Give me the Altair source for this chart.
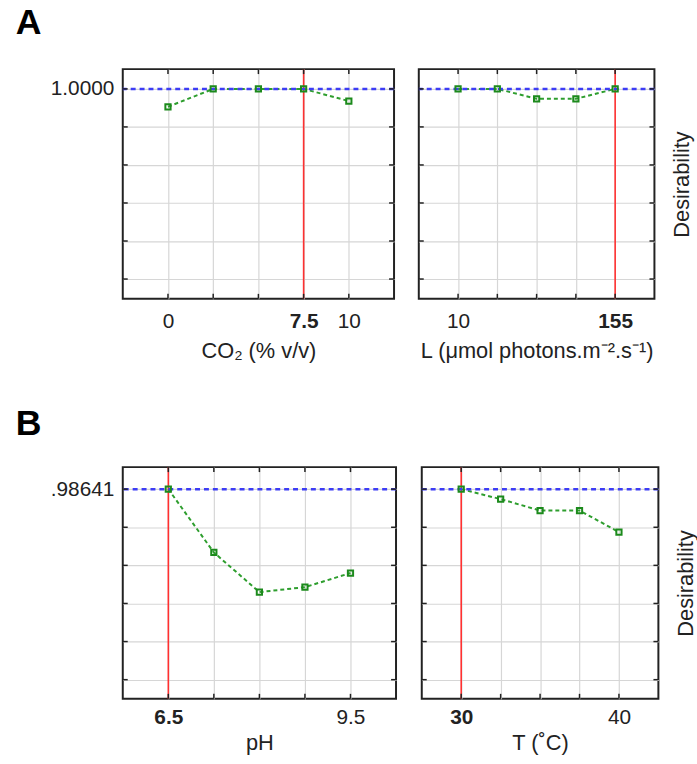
import altair as alt
import pandas as pd

# ---------------- data ----------------
co2_x = [0, 2.5, 5, 7.5, 10]
co2_d = [0.906, 1.0, 1.0, 1.0, 0.936]
light_x = [10, 46.25, 82.5, 118.75, 155]
light_d = [1.0, 1.0, 0.948, 0.948, 1.0]
ph_x = [6.5, 7.25, 8.0, 8.75, 9.5]
ph_d = [0.98641, 0.654, 0.446, 0.472, 0.546]
t_x = [30, 32.5, 35, 37.5, 40]
t_d = [0.98641, 0.934, 0.874, 0.874, 0.761]

co2_labels = {0: "0", 7.5: "7.5", 10: "10"}
light_labels = {10: "10", 155: "155"}
ph_labels = {6.5: "6.5", 9.5: "9.5"}
t_labels = {30: "30", 40: "40"}

opt_a = [7.5, 155]
opt_b = [6.5, 30]
max_a = 1.0
max_b = 0.98641

ygrid_a = [0.0, 0.2, 0.4, 0.6, 0.8, 1.0]
ygrid_b = [round(max_b - 0.2 * k, 5) for k in range(6)]

FONT = "Liberation Sans"
GRID = "#d6d6d6"


def label_expr(labels):
    parts = [f"abs(datum.value - {v}) < 1e-6 ? '{t}'" for v, t in labels.items()]
    return " : ".join(parts) + " : ''"


def panel(xs, ds, xdomain, xlabels, xbold, xtitle, ygrid, ydomain, ymax, ylab,
          opt, width, height, side, letter=None, letter_offset=2, lab_pad=10, tit_pad=8):
    df = pd.DataFrame({"x": xs, "d": ds})
    xaxis = alt.Axis(values=xs, grid=True, gridColor=GRID, gridWidth=1.2,
                     ticks=False, domain=False, labelExpr=label_expr(xlabels),
                     labelFontWeight={"condition": {"test": f"datum.value == {xbold}", "value": "bold"},
                                      "value": "normal"},
                     labelFontSize=21, labelPadding=lab_pad, labelColor="#222",
                     labelOverlap=False, labelFlush=False, title=xtitle,
                     titleFontSize=22, titleFontWeight="normal", titleColor="#222",
                     titlePadding=tit_pad, labelFont=FONT, titleFont=FONT)
    if side == "left":
        yaxis = alt.Axis(values=ygrid, grid=True, gridColor=GRID, gridWidth=1.2,
                         ticks=False, domain=False,
                         labelExpr=f"abs(datum.value - {ymax}) < 1e-6 ? '{ylab}' : ''",
                         labelFontSize=21, labelPadding=9, labelColor="#222",
                         labelOverlap=False, labelFlush=False, title=None, labelFont=FONT)
    else:
        yaxis = alt.Axis(orient="right", values=ygrid, grid=True, gridColor=GRID, gridWidth=1.2,
                         ticks=False, domain=False, labels=False, title="Desirability",
                         titleAngle=270, titleBaseline="top", titlePadding=17,
                         titleFontSize=22, titleFontWeight="normal", titleColor="#222",
                         titleFont=FONT)
    xs_ = alt.Scale(domain=xdomain, nice=False, zero=False)
    ys_ = alt.Scale(domain=ydomain, nice=False, zero=False)

    base = alt.Chart(df)
    red = alt.Chart(pd.DataFrame({"x": [opt]})).mark_rule(
        color="#ff3030", strokeWidth=1.6).encode(x=alt.X("x:Q", scale=xs_, axis=xaxis))
    line = base.mark_line(color="#2e9e2e", strokeWidth=2, strokeDash=[4, 3]).encode(
        x=alt.X("x:Q", scale=xs_), y=alt.Y("d:Q", scale=ys_, axis=yaxis))
    blue = alt.Chart(pd.DataFrame({"d": [ymax]})).mark_rule(
        color="#3c3cf5", strokeWidth=2.5, strokeDash=[5, 4]).encode(y=alt.Y("d:Q", scale=ys_))
    pts = base.mark_point(shape="square", size=28, filled=False, strokeWidth=2,
                          color="#1c8a1c", opacity=1).encode(
        x=alt.X("x:Q", scale=xs_), y=alt.Y("d:Q", scale=ys_))
    xg = alt.Chart(pd.DataFrame({"x": xs}))
    yg = alt.Chart(pd.DataFrame({"d": ygrid}))
    tk = dict(color="#222", strokeWidth=1.5)
    t_top = xg.mark_rule(**tk).encode(x=alt.X("x:Q", scale=xs_), y=alt.value(0), y2=alt.value(5))
    t_bot = xg.mark_rule(**tk).encode(x=alt.X("x:Q", scale=xs_), y=alt.value(height - 5), y2=alt.value(height))
    t_l = yg.mark_rule(**tk).encode(y=alt.Y("d:Q", scale=ys_), x=alt.value(0), x2=alt.value(5))
    t_r = yg.mark_rule(**tk).encode(y=alt.Y("d:Q", scale=ys_), x=alt.value(width - 5), x2=alt.value(width))

    ch = alt.layer(red, line, blue, pts, t_top, t_bot, t_l, t_r).properties(width=width, height=height)
    if letter:
        ch = ch.properties(title=alt.TitleParams(
            letter, anchor="start", frame="group", dx=-108, offset=letter_offset,
            fontSize=36, font=FONT, fontWeight="bold", baseline="alphabetic", color="black"))
    return ch


ydom_a = [-0.104, 1.104]
ydom_b = [-0.114, 1.102]

a1 = panel(co2_x, co2_d, [-2.5, 12.5], co2_labels, 7.5, "CO₂ (% v/v)", ygrid_a, ydom_a,
           max_a, "1.0000", opt_a[0], 274, 232, "left", "A", -1, lab_pad=12, tit_pad=9)
a2 = panel(light_x, light_d, [-26.25, 191.25], light_labels, 155, "L (μmol photons.m⁻².s⁻¹)",
           ygrid_a, ydom_a, max_a, "", opt_a[1], 238, 232, "right", lab_pad=12, tit_pad=9)
b1 = panel(ph_x, ph_d, [5.75, 10.25], ph_labels, 6.5, "pH", ygrid_b, ydom_b,
           max_b, ".98641", opt_b[0], 276, 234, "left", "B", -4, lab_pad=8, tit_pad=5)
b2 = panel(t_x, t_d, [27.5, 42.5], t_labels, 30, "T (˚C)", ygrid_b, ydom_b,
           max_b, "", opt_b[1], 239, 234, "right", lab_pad=8, tit_pad=5)

rowA = alt.hconcat(a1, a2, spacing=25, bounds="flush")
rowB = alt.hconcat(b1, b2, spacing=26, bounds="flush")

chart = alt.vconcat(rowA, rowB, spacing=402, bounds="flush").properties(
    padding={"left": 15, "top": 0, "right": 0, "bottom": 2},
    background="white",
).configure(font=FONT).configure_view(stroke="#222", strokeWidth=2)

chart.save("out.html", embed_options={"renderer": "svg", "actions": False})
